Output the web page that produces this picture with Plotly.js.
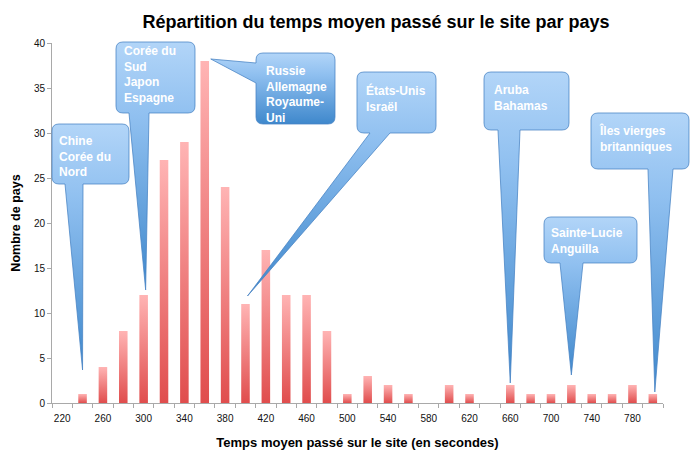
<!DOCTYPE html>
<html>
<head>
<meta charset="utf-8">
<script src="https://cdn.plot.ly/plotly-3.0.1.min.js"></script>
<style>html,body{margin:0;padding:0;background:#ffffff;}</style>
</head>
<body>
<div id="chart" style="width:698px;height:463px;"></div>
<script>
// ---- data ----
const categories = [220,240,260,280,300,320,340,360,380,400,420,440,460,480,500,520,540,560,580,600,620,640,660,680,700,720,740,760,780,800];
const counts     = [0,1,4,8,12,27,29,38,24,11,17,12,12,8,1,3,2,1,0,2,1,0,2,1,1,2,1,1,2,1];
const tickValues = [220,260,300,340,380,420,460,500,540,580,620,660,700,740,780];
const tickLabels = ['220','260','300','340','380','420','460','500','540','580','620','660','700','740','780'];
const calloutTexts = [
  ['Chine','Corée du','Nord'],
  ['Corée du','Sud','Japon','Espagne'],
  ['Russie','Allemagne','Royaume-','Uni'],
  ['États-Unis','Israël'],
  ['Aruba','Bahamas'],
  ['Sainte-Lucie','Anguilla'],
  ['Îles vierges','britanniques']
];
const calloutCategories = [240,300,360,400,660,720,800];

// ---- layout geometry (pixels) ----
const W = 698, H = 463;
const M = {l:52, r:35, t:43, b:60};
const PW = W - M.l - M.r, PH = H - M.t - M.b;
const XR = [210, 810], YR = [0, 40];
const FONT = '"Liberation Sans", Arial, sans-serif';

// callout placement: box [x0,y0,x1,y1], tail side & base, tip offset (dx, gap above bar), text anchor
const calloutGeom = [
  {box:[52,124,129,184],  side:'bottom', base:[65,83],   dx:0, gap:24, text:[57,132]},
  {box:[116,42,195,113],  side:'bottom', base:[129,149], dx:2, gap:5,  text:[122,42]},
  {box:[256,53,335,124],  side:'left',   base:[63,83],   dx:6, gap:2,  text:[264,62]},
  {box:[357,72,436,133],  side:'bottom', base:[370,390], dx:2, gap:8,  text:[364,81]},
  {box:[484,72,569,130],  side:'bottom', base:[498,520], dx:0, gap:2,  text:[492,81]},
  {box:[544,217,637,263], side:'bottom', base:[560,583], dx:0, gap:10, text:[549,224]},
  {box:[591,113,689,169], side:'bottom', base:[648,673], dx:2, gap:2,  text:[597,121]}
];

function dataX2px(x){ return M.l + (x - XR[0]) / (XR[1] - XR[0]) * PW; }
function dataY2px(y){ return M.t + PH - (y - YR[0]) / (YR[1] - YR[0]) * PH; }
function px2paperX(x){ return (x - M.l) / PW; }
function px2paperY(y){ return (M.t + PH - y) / PH; }
function P(x, y){ return px2paperX(x).toFixed(5) + ',' + px2paperY(y).toFixed(5); }

const shapes = [];
const annotations = [];
calloutGeom.forEach((g, i) => {
  const cat = calloutCategories[i];
  const val = counts[categories.indexOf(cat)];
  const tx = dataX2px(cat) + g.dx;
  const ty = dataY2px(val) - g.gap;
  const [x0,y0,x1,y1] = g.box;
  const r = 7;
  let d = 'M' + P(x0 + r, y0) + ' L' + P(x1 - r, y0) + ' Q' + P(x1, y0) + ' ' + P(x1, y0 + r) +
          ' L' + P(x1, y1 - r) + ' Q' + P(x1, y1) + ' ' + P(x1 - r, y1);
  if (g.side === 'bottom') d += ' L' + P(g.base[1], y1) + ' L' + P(tx, ty) + ' L' + P(g.base[0], y1);
  d += ' L' + P(x0 + r, y1) + ' Q' + P(x0, y1) + ' ' + P(x0, y1 - r);
  if (g.side === 'left') d += ' L' + P(x0, g.base[1]) + ' L' + P(tx, ty) + ' L' + P(x0, g.base[0]);
  d += ' L' + P(x0, y0 + r) + ' Q' + P(x0, y0) + ' ' + P(x0 + r, y0) + ' Z';
  shapes.push({type:'path', xref:'paper', yref:'paper', path:d, layer:'above',
               fillcolor:'#86b9ec', line:{color:'rgba(70,130,195,0.75)', width:1}});
  annotations.push({xref:'paper', yref:'paper', x:px2paperX(g.text[0]), y:px2paperY(g.text[1]),
    xanchor:'left', yanchor:'top', align:'left', showarrow:false,
    text: calloutTexts[i].join('<br>'),
    font:{family:FONT, size:12, color:'#ffffff', weight:'bold'}});
});

const trace = {
  type:'bar', x:categories, y:counts, width:8.4,
  marker:{color:'#f07b7b', line:{width:0}}, hoverinfo:'skip'
};

const minorTicks = categories.map(c => c - 10).concat([categories[categories.length-1] + 10]);

const layout = {
  width:W, height:H, margin:M,
  paper_bgcolor:'#ffffff', plot_bgcolor:'#ffffff',
  showlegend:false,
  font:{family:FONT, color:'#000'},
  title:{text:'Répartition du temps moyen passé sur le site par pays',
         font:{family:FONT, size:18, color:'#000', weight:'bold'},
         xref:'container', yref:'container', x:376/W, y:1 - 22/H, xanchor:'center', yanchor:'middle'},
  xaxis:{range:XR, tickmode:'array', tickvals:tickValues, ticktext:tickLabels, ticks:'',
         showline:true, linecolor:'#a9a9a9', linewidth:1, showgrid:false, zeroline:false,
         tickfont:{family:FONT, size:10, color:'#111'}, ticklabelstandoff:6,
         minor:{tickmode:'array', tickvals:minorTicks, ticks:'outside', ticklen:4, tickcolor:'#a9a9a9', showgrid:false},
         title:{text:'Temps moyen passé sur le site (en secondes)', font:{family:FONT, size:13, color:'#000', weight:'bold'}, standoff:14},
         fixedrange:true},
  yaxis:{range:YR, tickmode:'linear', tick0:0, dtick:5, ticks:'outside', ticklen:4, tickcolor:'#a9a9a9',
         showline:true, linecolor:'#a9a9a9', linewidth:1, showgrid:false, zeroline:false,
         tickfont:{family:FONT, size:10, color:'#111'},
         title:{text:'Nombre de pays', font:{family:FONT, size:12.5, color:'#000', weight:'bold'}, standoff:10},
         fixedrange:true},
  shapes:shapes, annotations:annotations, bargap:0.6
};

Plotly.newPlot('chart', [trace], layout, {displayModeBar:false, staticPlot:true}).then(gd => {
  const ns = 'http://www.w3.org/2000/svg';
  const defs = gd.querySelector('svg.main-svg defs');
  function grad(id, stops){
    const g = document.createElementNS(ns, 'linearGradient');
    g.setAttribute('id', id);
    g.setAttribute('x1','0'); g.setAttribute('y1','0'); g.setAttribute('x2','0'); g.setAttribute('y2','1');
    stops.forEach(([o,c]) => { const s = document.createElementNS(ns,'stop'); s.setAttribute('offset', o); s.setAttribute('stop-color', c); g.appendChild(s); });
    defs.appendChild(g);
  }
  grad('barGrad', [[0,'#ffb4b4'],[1,'#e04d4d']]);
  grad('callGrad', [[0,'#b2d5f8'],[0.3,'#90c0f0'],[1,'#3f88cc']]);
  gd.querySelectorAll('.barlayer .point path').forEach(p => { p.style.fill = 'url(#barGrad)'; });
  gd.querySelectorAll('.shapelayer path').forEach(p => { p.style.fill = 'url(#callGrad)'; });
});
</script>
</body>
</html>
